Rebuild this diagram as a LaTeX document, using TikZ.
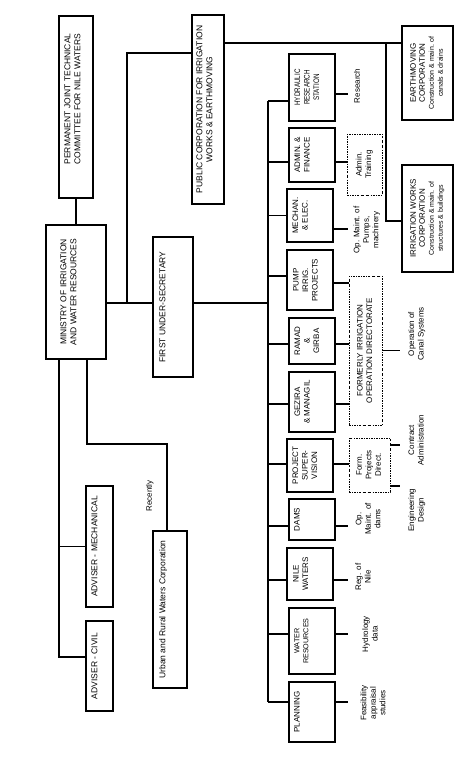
\documentclass[tikz,border=0pt]{standalone}
\usepackage{fontspec}
\setmainfont{Liberation Sans}
\usepackage{graphicx}
\usetikzlibrary{positioning,calc}
\newcommand{\vtxt}[1]{\rotatebox{90}{\begin{tabular}{@{}c@{}}#1\end{tabular}}}
\newcommand{\subtxt}{\fontsize{7}{9}\selectfont}
\newcommand{\narrow}[1]{\scalebox{0.78}[1]{#1}}

\begin{document}
\begin{tikzpicture}[x=1pt, y=-1pt,
  box/.style={draw, line width=1.5pt, inner sep=0pt},
  unit/.style={box, minimum width=46pt},
  corp/.style={box, minimum width=51pt, font=\fontsize{8}{9}\selectfont},
  dbox/.style={draw, line width=0.6pt, dash pattern=on 2pt off 1.3pt on 0.5pt off 1.3pt,
    inner sep=0pt, font=\fontsize{8}{9.5}\selectfont},
  tbig/.style={inner sep=0pt, font=\fontsize{8.5}{10}\selectfont},
  tunit/.style={inner sep=0pt, font=\fontsize{8}{9.5}\selectfont},
  lbl/.style={inner sep=0pt, font=\fontsize{8}{9.5}\selectfont},
  link/.style={line width=1.5pt}
]
  \useasboundingbox (0,0) rectangle (474,757);

  % ministry level
  \node[box, minimum width=34pt, minimum height=182pt] (comm) at (76,107) {};
  \node[tbig, right=5pt of comm.west, yshift=8pt] (comm-t) {\vtxt{PERMANENT JOINT TECHNICAL\\COMMITTEE FOR NILE WATERS}};
  \node[box, minimum width=60pt, minimum height=134pt] (min) at (76,292) {};
  \node[tbig, right=14pt of min.west] (min-t) {\vtxt{MINISTRY OF IRRIGATION\\AND WATER RESOURCES}};
  \node[box, minimum width=32pt, minimum height=189pt] (pub) at (208,109.5) {};
  \node[tbig, right=4pt of pub.west] (pub-t) {\vtxt{PUBLIC CORPORATION FOR IRRIGATION\\WORKS \& EARTHMOVING}};
  \node[box, minimum width=40pt, minimum height=140pt] (fus) at (173,307) {};
  \node[tbig, right=6pt of fus.west] (fus-t) {\vtxt{FIRST UNDER-SECRETARY}};
  \node[box, minimum width=27pt, minimum height=121pt] (mechadv) at (99.5,546.5) {};
  \node[tbig, right=5pt of mechadv.west] (mechadv-t) {\vtxt{ADVISER - MECHANICAL}};
  \node[box, minimum width=27pt, minimum height=90pt] (civil) at (99.5,666) {};
  \node[tbig, right=5pt of civil.west] (civil-t) {\vtxt{ADVISER - CIVIL}};
  \node[box, minimum width=34pt, minimum height=157pt] (urban) at (170,609.5) {};
  \node[tbig, right=6pt of urban.west] (urban-t) {\vtxt{Urban and Rural Waters Corporation}};
  \node[lbl] (recent) at (150,496) {\vtxt{Recently}};

  % corporations
  \node[corp, minimum height=94pt] (earth) at (427.5,73) {\vtxt{EARTHMOVING\\CORPORATION\\{\subtxt Construction \& main. of}\\{\subtxt canals \& drains}}};
  \node[corp, minimum height=107pt] (irr) at (427.5,218.5) {\vtxt{IRRIGATION WORKS\\CORPORATION\\{\subtxt Construction \& main. of}\\{\subtxt structures \& buildings}}};

  % directorates
  \node[unit, minimum height=67pt] (hyd) at (312,87.5) {};
  \node[tunit, right=5pt of hyd.west] (hyd-t) {\vtxt{\narrow{HYDRAULIC}\\\narrow{RESEARCH}\\\narrow{STATION}}};
  \node[unit, minimum height=54pt] (adm) at (312,155) {};
  \node[tunit, right=5pt of adm.west] (adm-t) {\vtxt{ADMIN. \&\\FINANCE}};
  \node[unit, minimum height=53pt] (mech) at (310,215.5) {};
  \node[tunit, right=5pt of mech.west] (mech-t) {\vtxt{MECHAN.\\\& ELEC.}};
  \node[unit, minimum height=60pt] (pump) at (310,280) {};
  \node[tunit, right=5.5pt of pump.west] (pump-t) {\vtxt{PUMP\\IRRIG.\\PROJECTS}};
  \node[unit, minimum height=46pt] (ramad) at (312,341) {};
  \node[tunit, right=5pt of ramad.west] (ramad-t) {\vtxt{RAMAD\\\&\\GIRBA}};
  \node[unit, minimum height=60pt] (gez) at (312,402) {};
  \node[tunit, right=5pt of gez.west] (gez-t) {\vtxt{GEZIRA\\\& MANAGIL}};
  \node[unit, minimum height=53pt] (proj) at (310,465.5) {};
  \node[tunit, right=5pt of proj.west] (proj-t) {\vtxt{PROJECT\\SUPER-\\VISION}};
  \node[unit, minimum height=41pt] (dams) at (312,519.5) {};
  \node[tunit, right=4.5pt of dams.west] (dams-t) {\vtxt{DAMS}};
  \node[unit, minimum height=52pt] (nile) at (310,574) {};
  \node[tunit, right=5.5pt of nile.west] (nile-t) {\vtxt{NILE\\WATERS}};
  \node[unit, minimum height=66pt] (wres) at (312,641) {};
  \node[tunit, font=\fontsize{7.2}{9}\selectfont, right=4.5pt of wres.west] (wres-t) {\vtxt{WATER\\RESOURCES}};
  \node[unit, minimum height=60pt] (plan) at (312,712) {};
  \node[tunit, right=4.5pt of plan.west] (plan-t) {\vtxt{PLANNING}};

  % former directorates
  \node[dbox, minimum width=35pt, minimum height=61pt] (admtr) at (364.5,164.5) {\vtxt{Admin.\\Training}};
  \node[dbox, minimum width=33pt, minimum height=149pt] (formirr) at (365.5,350.5) {\vtxt{FORMERLY IRRIGATION\\OPERATION DIRECTORATE}};
  \node[dbox, minimum width=41pt, minimum height=54pt] (formproj) at (369.5,465) {\vtxt{Form.\\Projects\\Direct.}};

  % functions
  \node[lbl] (f-res) at (358,86) {\vtxt{Research}};
  \node[lbl] (f-pumps) at (367,230) {\vtxt{Op. Maint. of\\Pumps,\\machinery}};
  \node[lbl] (f-canal) at (417,334) {\vtxt{Operation of\\Canal Systems}};
  \node[lbl] (f-contr) at (417,440) {\vtxt{Contract\\Administration}};
  \node[lbl] (f-eng) at (417,510) {\vtxt{Engineering\\Design}};
  \node[lbl] (f-dams) at (369,519) {\vtxt{Op.\\Maint. of\\dams}};
  \node[lbl] (f-nile) at (364,577) {\vtxt{Reg. of\\Nile}};
  \node[lbl] (f-hydro) at (371,634) {\vtxt{Hydrology\\data}};
  \node[lbl] (f-feas) at (374,703) {\vtxt{Feasibility\\appraisal\\studies}};

  \coordinate (bustop) at (268,101);
  \coordinate (busbot) at (268,702);
  \coordinate (sx) at (348,0);
  \coordinate (ex) at (400,0);
  \coordinate (cv) at (386,0);
  \coordinate (fj) at (127,303);
  \coordinate (rc) at (167,444);

  % ministry links
  \draw[link] (comm) -- (min);
  \draw[link] ([yshift=-11pt]min.east) coordinate (m1) -- (m1 -| fus.west);
  \draw[link] (fj) |- ([yshift=56.5pt]pub.west);
  \draw[link] (m1 -| fus.east) -- (m1 -| bustop);
  \draw[link] ([yshift=66.5pt]pub.east) coordinate (p2) -- (p2 -| earth.west);
  \draw[link] (p2 -| cv) |- ([yshift=-2.5pt]irr.west);
  \draw[link] ([xshift=-17pt]min.south) coordinate (m2) |- ([yshift=9pt]civil.west);
  \draw[link] (mechadv.west) -- (mechadv.west -| m2);
  \draw[link] ([xshift=11pt]min.south) |- (rc) -- (rc |- urban.north);

  % bus to directorates
  \draw[link] (bustop) -- (busbot);
  \draw[link] ([yshift=-13.5pt]hyd.west) coordinate (b1) -- (b1 -| bustop);
  \draw[link] ([yshift=-7pt]adm.west) coordinate (b2) -- (b2 -| bustop);
  \draw[link] (mech.west) -- (mech.west -| bustop);
  \draw[link] ([yshift=4pt]pump.west) coordinate (b4) -- (b4 -| bustop);
  \draw[link] ([yshift=-3pt]ramad.west) coordinate (b5) -- (b5 -| bustop);
  \draw[link] ([yshift=-2pt]gez.west) coordinate (b6) -- (b6 -| bustop);
  \draw[link] ([yshift=1.5pt]proj.west) coordinate (b7) -- (b7 -| bustop);
  \draw[link] ([yshift=-6.5pt]dams.west) coordinate (b8) -- (b8 -| bustop);
  \draw[link] ([yshift=-6pt]nile.west) coordinate (b9) -- (b9 -| bustop);
  \draw[link] ([yshift=7pt]wres.west) coordinate (b10) -- (b10 -| bustop);
  \draw[link] ([yshift=10pt]plan.west) coordinate (b11) -- (b11 -| bustop);

  % stubs to functions
  \draw[link] ([yshift=-6.5pt]hyd.east) coordinate (s1) -- (s1 -| sx);
  \draw[link] ([yshift=-7pt]adm.east) coordinate (s2) -- (s2 -| admtr.west);
  \draw[link] ([yshift=-13.5pt]mech.east) coordinate (s3) -- (s3 -| sx);
  \draw[link] ([yshift=-3pt]pump.east) coordinate (s4) -- (s4 -| formirr.west);
  \draw[link] ([yshift=-3pt]ramad.east) coordinate (s5) -- (s5 -| formirr.west);
  \draw[link] ([yshift=-2pt]gez.east) coordinate (s6) -- (s6 -| formirr.west);
  \draw[link] ([yshift=1.5pt]proj.east) coordinate (s7) -- (s7 -| formproj.west);
  \draw[link] ([yshift=-6.5pt]dams.east) coordinate (s8) -- (s8 -| sx);
  \draw[link] ([yshift=-6pt]nile.east) coordinate (s9) -- (s9 -| sx);
  \draw[link] ([yshift=7pt]wres.east) coordinate (s10) -- (s10 -| sx);
  \draw[link] ([yshift=10pt]plan.east) coordinate (s11) -- (s11 -| sx);
  \draw[link] (formirr.east) -- (formirr.east -| ex);
  \draw[link] ([yshift=20pt]formproj.east) coordinate (s12) -- (s12 -| ex);
  \draw[link] ([yshift=-21pt]formproj.east) coordinate (s13) -- (s13 -| ex);
\end{tikzpicture}
\end{document}
